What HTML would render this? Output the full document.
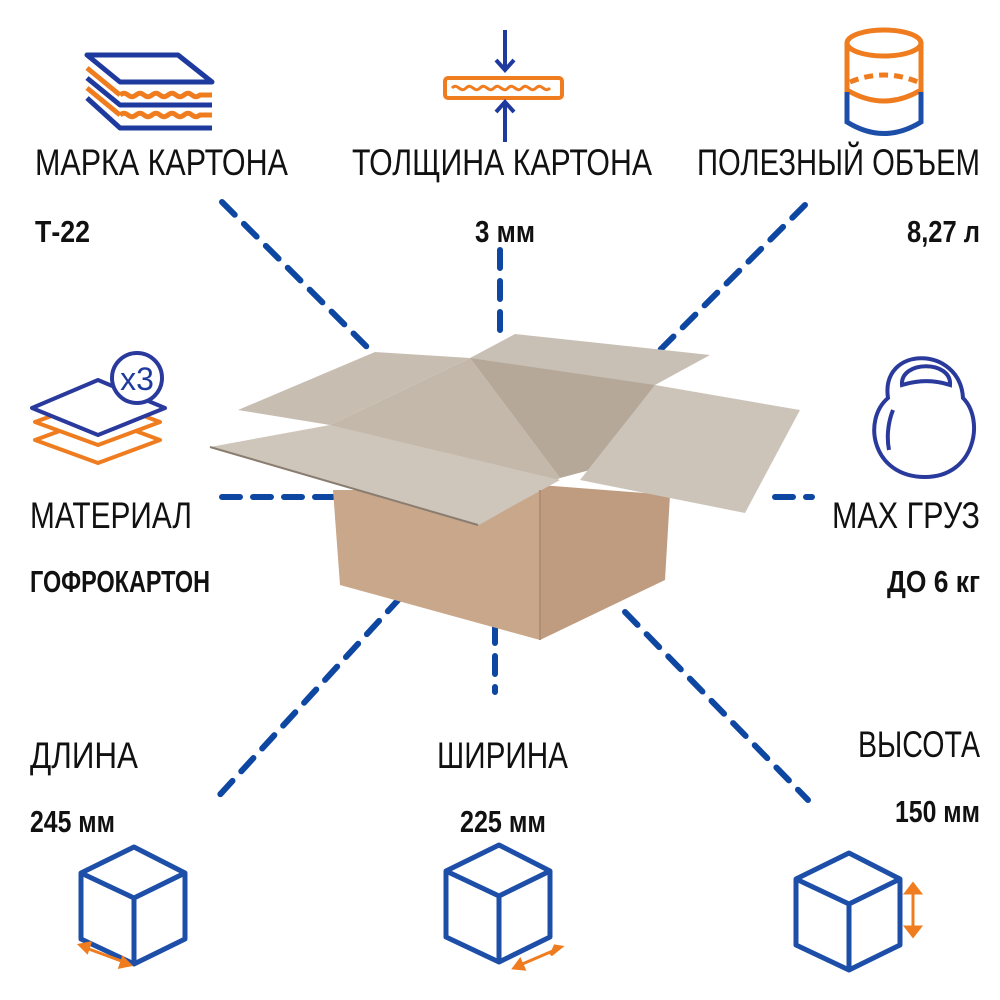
<!DOCTYPE html>
<html><head><meta charset="utf-8"><style>
html,body{margin:0;padding:0;background:#fff;width:1000px;height:1000px;overflow:hidden}
svg{display:block}
text{font-family:"Liberation Sans Narrow","Liberation Sans",sans-serif;fill:#111}
.b{font-weight:bold}
</style></head><body>
<svg width="1000" height="1000" viewBox="0 0 1000 1000" xmlns="http://www.w3.org/2000/svg">
<g stroke="#0d47a1" stroke-width="6" stroke-dasharray="18 13" stroke-linecap="round" fill="none">
<line x1="222" y1="202" x2="378" y2="358"/>
<line x1="500" y1="250" x2="500" y2="338"/>
<line x1="805" y1="205" x2="660" y2="350"/>
<line x1="222" y1="497" x2="335" y2="497"/>
<line x1="775" y1="497" x2="812" y2="497"/>
<line x1="400" y1="598" x2="215" y2="800"/>
<line x1="495" y1="625" x2="495" y2="692"/>
<line x1="625" y1="612" x2="808" y2="800"/>
</g>
<!-- box -->
<polygon points="333,490 540,490 540,640 340,585" fill="#c8a78a"/>
<polygon points="540,485 670,495 665,580 540,640" fill="#bf9c80"/>
<polygon points="330,425 470,358 560,478 480,525" fill="#c4b8aa"/>
<polygon points="470,358 560,478 590,470 655,385 520,345" fill="#b5a899"/>
<polygon points="470,358 515,334 710,355 655,385" fill="#c9c0b5"/>
<polygon points="238,410 375,352 470,358 330,425" fill="#c7bdb1"/>
<polygon points="210,447 330,425 560,480 478,525" fill="#cfc6bb"/>
<polygon points="580,480 655,385 800,410 745,513" fill="#cdc4b9"/>
<line x1="210" y1="447" x2="478" y2="525" stroke="#8a7d70" stroke-width="2"/>
<line x1="540" y1="490" x2="540" y2="640" stroke="#b08f74" stroke-width="2"/>
<!-- icon top-left layers -->
<g fill="none" stroke-width="5" stroke-linejoin="round">
<polygon points="87,55 178,55 212,82 120,82" stroke="#1e3a9e"/>
<path d="M87,68 L120,95 M120,95 c8,-6 8,6 16,0 c8,-6 8,6 16,0 c8,-6 8,6 16,0 c8,-6 8,6 16,0 c8,-6 8,6 16,0 l12,0" stroke="#ef7d1f"/>
<path d="M87,78 L120,105 L212,105" stroke="#1e3a9e"/>
<path d="M87,88 L120,115 M120,115 c8,-6 8,6 16,0 c8,-6 8,6 16,0 c8,-6 8,6 16,0 c8,-6 8,6 16,0 c8,-6 8,6 16,0 l12,0" stroke="#ef7d1f"/>
<path d="M87,98 L120,128 L212,128" stroke="#1e3a9e"/>
</g>
<g fill="none" stroke-width="4">
<path d="M505,30 V70 M496,60 L505,70 L514,60" stroke="#1e3a9e"/>
<rect x="445" y="78" width="117" height="20" rx="3" stroke="#ef7d1f"/>
<path d="M452,88 c6,-6 8,6 14,0 c6,-6 8,6 14,0 c6,-6 8,6 14,0 c6,-6 8,6 14,0 c6,-6 8,6 14,0 c6,-6 8,6 14,0 c6,-6 8,6 14,0" stroke="#ef7d1f" stroke-width="3"/>
<path d="M505,142 V102 M496,112 L505,102 L514,112" stroke="#1e3a9e"/>
</g>
<g fill="none" stroke-width="5">
<ellipse cx="884" cy="43" rx="37" ry="13" stroke="#ef7d1f"/>
<path d="M847,43 V92 M921,43 V92" stroke="#ef7d1f"/>
<path d="M850,82 Q884,68 918,82" stroke="#ef7d1f" stroke-dasharray="9 6"/>
<path d="M847,90 Q884,112 921,90" stroke="#ef7d1f"/>
<path d="M847,92 V122 Q884,145 921,122 V92" stroke="#1e4fa8"/>
</g>
<g fill="none" stroke-width="4" stroke-linejoin="round">
<polygon points="35,440 98,463 160,440 98,417" stroke="#ef7d1f"/>
<polygon points="35,422 98,445 160,422 98,399" stroke="#ef7d1f" fill="#fff"/>
<polygon points="32,408 98,435 165,408 98,380" stroke="#2a3a9c" fill="#fff"/>
<circle cx="137" cy="378" r="25" stroke="#2a3a9c" fill="#fff"/>
</g>
<text x="137" y="390" font-size="32" text-anchor="middle" style="fill:#1e3a9e;font-family:'Liberation Sans',sans-serif">x3</text>
<g fill="none" stroke="#2a3a9c" stroke-width="4">
<path d="M888,398 C880,345 960,345 963,398 C985,420 975,477 925,477 C872,477 862,420 888,398 Z"/>
<path d="M902,385 C900,360 952,360 950,385 C935,380 918,380 902,385 Z"/>
<path d="M893,410 C887,425 887,440 889,450"/>
</g>
<g fill="none" stroke="#1e4fa8" stroke-width="5" stroke-linejoin="round">
<g transform="translate(-715,-6)"><polygon points="849,853 900,879 900,945 849,970 796,945 796,879"/><path d="M796,879 L849,904 L900,879 M849,904 V970"/></g>
<g transform="translate(-350,-8)"><polygon points="849,853 900,879 900,945 849,970 796,945 796,879"/><path d="M796,879 L849,904 L900,879 M849,904 V970"/></g>
<polygon points="849,853 900,879 900,945 849,970 796,945 796,879"/><path d="M796,879 L849,904 L900,879 M849,904 V970"/>
</g>
<g stroke="#ef7d1f" stroke-width="3" fill="#ef7d1f">
<line x1="913" y1="890" x2="913" y2="930"/>
<polygon points="906,893 913,884 920,893"/><polygon points="906,927 913,936 920,927"/>
<line x1="86" y1="948" x2="124" y2="962"/>
<polygon points="80,945 90,943 87,952"/><polygon points="130,965 120,967 123,958"/>
<line x1="520" y1="965" x2="555" y2="950"/>
<polygon points="514,968 520,960 524,969"/><polygon points="561,947 555,946 551,955"/>
</g>
<g font-size="37">
<text x="35" y="175" textLength="253" lengthAdjust="spacingAndGlyphs">МАРКА КАРТОНА</text>
<text x="352" y="175" textLength="300" lengthAdjust="spacingAndGlyphs">ТОЛЩИНА КАРТОНА</text>
<text x="697" y="175" textLength="283" lengthAdjust="spacingAndGlyphs">ПОЛЕЗНЫЙ ОБЪЕМ</text>
<text x="30" y="528" textLength="162" lengthAdjust="spacingAndGlyphs">МАТЕРИАЛ</text>
<text x="832" y="528" textLength="148" lengthAdjust="spacingAndGlyphs">МАХ ГРУЗ</text>
<text x="30" y="768" textLength="108" lengthAdjust="spacingAndGlyphs">ДЛИНА</text>
<text x="437" y="768" textLength="131" lengthAdjust="spacingAndGlyphs">ШИРИНА</text>
<text x="858" y="757" textLength="122" lengthAdjust="spacingAndGlyphs">ВЫСОТА</text>
</g>
<g font-size="31">
<text class="b" x="35" y="242" textLength="55" lengthAdjust="spacingAndGlyphs">Т-22</text>
<text class="b" x="475" y="242" textLength="60" lengthAdjust="spacingAndGlyphs">3 мм</text>
<text class="b" x="907" y="242" textLength="73" lengthAdjust="spacingAndGlyphs">8,27 л</text>
<text class="b" x="30" y="592" textLength="180" lengthAdjust="spacingAndGlyphs">ГОФРОКАРТОН</text>
<text class="b" x="887" y="592" textLength="93" lengthAdjust="spacingAndGlyphs">ДО 6 кг</text>
<text class="b" x="30" y="832" textLength="85" lengthAdjust="spacingAndGlyphs">245 мм</text>
<text class="b" x="460" y="832" textLength="86" lengthAdjust="spacingAndGlyphs">225 мм</text>
<text class="b" x="895" y="822" textLength="85" lengthAdjust="spacingAndGlyphs">150 мм</text>
</g>
</svg>
</body></html>
